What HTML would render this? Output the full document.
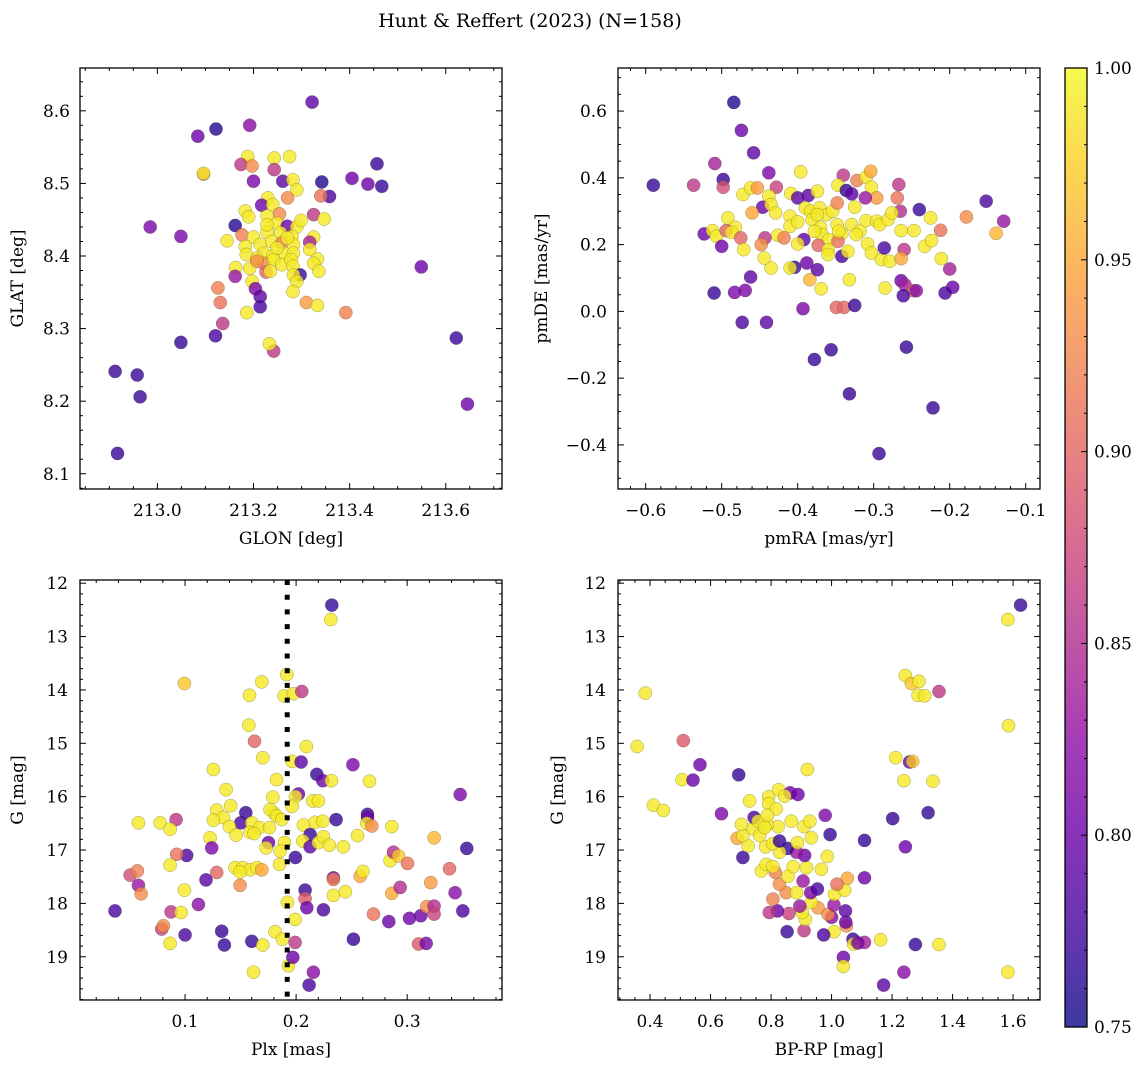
<!DOCTYPE html>
<html><head><meta charset="utf-8">
<style>
html,body{margin:0;padding:0;background:#fff;}
svg{display:block;font-family:"DejaVu Serif","Liberation Serif",serif;}
</style></head>
<body>
<svg id="fig" width="1148" height="1067" viewBox="0 0 1148 1067" xmlns="http://www.w3.org/2000/svg">
<defs>
<linearGradient id="plasma" x1="0" y1="1" x2="0" y2="0">
<stop offset="0" stop-color="#0d0887"/><stop offset="0.1" stop-color="#41049d"/><stop offset="0.2" stop-color="#6a00a8"/><stop offset="0.3" stop-color="#8f0da4"/><stop offset="0.4" stop-color="#b12a90"/><stop offset="0.5" stop-color="#cc4778"/><stop offset="0.6" stop-color="#e16462"/><stop offset="0.7" stop-color="#f2844b"/><stop offset="0.8" stop-color="#fca636"/><stop offset="0.9" stop-color="#fcce25"/><stop offset="1" stop-color="#f0f921"/>
</linearGradient>
</defs>
<text x="530" y="27" text-anchor="middle" font-size="19">Hunt &amp; Reffert (2023) (N=158)</text>
</svg>
<script>
// ---- Panel 1 data: GLON / GLAT / membership probability ----
const p1Lon=[213.322,213.122,213.084,213.192,213.096,213.096,213.188,213.174,213.197,213.243,213.275,213.243,213.200,213.261,213.282,213.290,213.342,213.457,213.405,213.438,213.467,213.358,213.340,213.271,213.230,213.217,213.240,213.254,213.325,213.347,213.183,213.190,212.985,213.049,213.162,213.228,213.249,213.270,213.290,213.299,213.145,213.176,213.200,213.228,213.256,213.280,213.325,213.317,213.183,213.214,213.238,213.259,213.283,213.317,213.185,213.221,213.240,213.263,213.283,213.333,213.325,213.221,213.242,213.259,213.278,213.163,213.192,213.226,213.235,213.282,213.297,213.336,213.283,213.162,213.197,213.290,213.204,213.214,213.126,213.282,213.214,213.131,213.186,213.310,213.333,213.392,213.136,213.121,213.049,213.242,213.233,213.549,213.622,213.645,212.912,212.958,212.964,212.917,213.207,213.249,213.270,213.228,213.207];
const p1Lat=[8.612,8.575,8.565,8.580,8.513,8.514,8.537,8.526,8.524,8.535,8.537,8.519,8.503,8.503,8.505,8.491,8.502,8.527,8.507,8.499,8.496,8.482,8.483,8.480,8.480,8.470,8.471,8.458,8.457,8.451,8.462,8.454,8.440,8.427,8.442,8.455,8.445,8.441,8.440,8.449,8.421,8.429,8.426,8.433,8.432,8.427,8.426,8.419,8.413,8.416,8.420,8.418,8.416,8.409,8.402,8.404,8.400,8.404,8.404,8.396,8.390,8.390,8.395,8.388,8.395,8.384,8.383,8.378,8.379,8.386,8.374,8.379,8.374,8.372,8.365,8.365,8.355,8.344,8.356,8.351,8.330,8.336,8.322,8.336,8.332,8.322,8.307,8.290,8.281,8.269,8.279,8.385,8.287,8.196,8.241,8.236,8.206,8.128,8.397,8.411,8.425,8.443,8.393];
const p1Prob=[0.79,0.76,0.80,0.82,0.90,0.99,0.99,0.86,0.93,0.99,0.99,0.86,0.81,0.79,0.99,0.99,0.76,0.77,0.80,0.80,0.77,0.78,0.91,0.93,0.99,0.80,0.99,0.93,0.86,0.99,0.99,0.99,0.81,0.81,0.76,0.99,0.99,0.80,0.99,0.99,0.99,0.92,0.99,0.99,0.99,0.99,0.99,0.84,0.99,0.99,0.99,0.92,0.99,0.99,0.99,0.99,0.99,0.99,0.99,0.99,0.99,0.93,0.99,0.99,0.99,0.99,0.99,0.90,0.99,0.99,0.77,0.99,0.99,0.83,0.99,0.99,0.81,0.79,0.92,0.99,0.78,0.91,0.99,0.94,0.99,0.92,0.86,0.78,0.77,0.86,0.99,0.80,0.77,0.80,0.77,0.77,0.77,0.77,0.99,0.99,0.99,0.99,0.93];

// ---- Panel 2 data: pmRA / pmDE / probability ----
const p2RA=[-0.484,-0.474,-0.458,-0.509,-0.590,-0.537,-0.498,-0.498,-0.438,-0.396,-0.340,-0.322,-0.310,-0.304,-0.347,-0.336,-0.329,-0.303,-0.267,-0.296,-0.311,-0.269,-0.152,-0.240,-0.265,-0.225,-0.178,-0.129,-0.139,-0.472,-0.462,-0.453,-0.428,-0.409,-0.400,-0.386,-0.374,-0.438,-0.446,-0.435,-0.429,-0.460,-0.492,-0.482,-0.523,-0.512,-0.507,-0.494,-0.487,-0.475,-0.500,-0.471,-0.443,-0.448,-0.426,-0.418,-0.410,-0.410,-0.400,-0.392,-0.400,-0.390,-0.383,-0.371,-0.381,-0.370,-0.362,-0.354,-0.348,-0.348,-0.368,-0.378,-0.359,-0.342,-0.347,-0.373,-0.360,-0.360,-0.342,-0.334,-0.329,-0.325,-0.318,-0.310,-0.323,-0.308,-0.303,-0.296,-0.290,-0.286,-0.292,-0.281,-0.276,-0.279,-0.264,-0.247,-0.260,-0.264,-0.233,-0.224,-0.212,-0.211,-0.200,-0.196,-0.206,-0.264,-0.259,-0.248,-0.261,-0.244,-0.285,-0.332,-0.369,-0.384,-0.388,-0.374,-0.404,-0.410,-0.435,-0.444,-0.462,-0.469,-0.483,-0.510,-0.473,-0.441,-0.393,-0.349,-0.339,-0.325,-0.378,-0.356,-0.332,-0.257,-0.222,-0.293,-0.374,-0.346];
const p2DE=[0.626,0.542,0.475,0.443,0.378,0.378,0.395,0.372,0.415,0.418,0.408,0.392,0.402,0.420,0.378,0.362,0.352,0.372,0.380,0.340,0.340,0.340,0.330,0.305,0.300,0.280,0.283,0.270,0.234,0.350,0.370,0.370,0.372,0.353,0.340,0.347,0.360,0.345,0.312,0.320,0.295,0.295,0.280,0.252,0.232,0.242,0.225,0.242,0.237,0.220,0.195,0.185,0.220,0.200,0.228,0.220,0.285,0.255,0.268,0.215,0.202,0.310,0.300,0.310,0.275,0.252,0.290,0.300,0.325,0.260,0.230,0.240,0.215,0.233,0.210,0.198,0.185,0.170,0.165,0.180,0.260,0.312,0.240,0.272,0.230,0.202,0.175,0.270,0.155,0.190,0.260,0.275,0.295,0.150,0.242,0.242,0.185,0.158,0.195,0.212,0.243,0.158,0.127,0.072,0.055,0.092,0.080,0.062,0.047,0.062,0.070,0.095,0.068,0.095,0.145,0.125,0.132,0.130,0.130,0.160,0.103,0.063,0.057,0.055,-0.033,-0.033,0.008,0.012,0.012,0.018,-0.144,-0.115,-0.247,-0.107,-0.289,-0.426,0.290,0.240];
const p2Prob=[0.76,0.80,0.79,0.84,0.77,0.86,0.77,0.88,0.81,0.99,0.86,0.92,0.99,0.95,0.99,0.77,0.79,0.99,0.86,0.94,0.83,0.91,0.78,0.77,0.85,0.99,0.93,0.83,0.96,0.99,0.99,0.94,0.87,0.99,0.79,0.79,0.99,0.99,0.80,0.99,0.99,0.95,0.99,0.99,0.80,0.99,0.99,0.90,0.99,0.90,0.80,0.99,0.86,0.93,0.99,0.92,0.99,0.99,0.99,0.79,0.99,0.99,0.99,0.99,0.99,0.99,0.99,0.99,0.92,0.99,0.99,0.99,0.99,0.99,0.91,0.90,0.99,0.99,0.78,0.99,0.99,0.99,0.99,0.99,0.99,0.99,0.99,0.99,0.99,0.78,0.99,0.99,0.99,0.99,0.99,0.99,0.86,0.95,0.99,0.99,0.91,0.99,0.84,0.80,0.78,0.80,0.84,0.90,0.78,0.82,0.99,0.99,0.99,0.96,0.80,0.79,0.77,0.99,0.99,0.99,0.79,0.81,0.81,0.77,0.78,0.79,0.81,0.90,0.90,0.77,0.77,0.77,0.77,0.77,0.77,0.77,0.99,0.99];

// ---- Panel 3 data: Plx / G / probability ----
const p3Plx=[0.2321,0.2312,0.1916,0.0994,0.1691,0.1580,0.1892,0.1976,0.2051,0.1574,0.1625,0.2093,0.1700,0.1964,0.2045,0.2511,0.1255,0.2186,0.2240,0.2318,0.2661,0.1823,0.1370,0.1790,0.2021,0.1994,0.3478,0.1411,0.2150,0.2201,0.1964,0.1285,0.1547,0.1796,0.1766,0.1826,0.1345,0.1255,0.0580,0.0775,0.0919,0.0865,0.1502,0.2360,0.2643,0.2643,0.2637,0.2682,0.2862,0.2171,0.2240,0.2066,0.1601,0.1399,0.1670,0.1760,0.1871,0.1460,0.1586,0.1622,0.1225,0.2126,0.2060,0.2126,0.2201,0.2246,0.2300,0.2426,0.2553,0.1751,0.1730,0.1895,0.1856,0.1240,0.1015,0.0925,0.0865,0.1994,0.1850,0.1451,0.1520,0.1586,0.1646,0.1691,0.1496,0.1285,0.1189,0.1496,0.0505,0.0571,0.0580,0.0604,0.0994,0.1120,0.0369,0.0874,0.0964,0.0790,0.0805,0.0865,0.1000,0.1330,0.1354,0.1601,0.1700,0.1811,0.1877,0.1616,0.1931,0.1970,0.1991,0.1991,0.1922,0.2081,0.2081,0.2096,0.2246,0.2156,0.2117,0.2516,0.2336,0.2336,0.2336,0.2444,0.2577,0.2601,0.2697,0.2862,0.2937,0.2847,0.2877,0.2922,0.3003,0.2835,0.3021,0.3123,0.3177,0.3243,0.3243,0.3213,0.3243,0.3381,0.3432,0.3501,0.3537,0.3102,0.3171];
const p3G=[12.41,12.68,13.71,13.88,13.85,14.10,14.11,14.07,14.03,14.66,14.96,15.06,15.27,15.34,15.35,15.40,15.49,15.58,15.70,15.70,15.71,15.68,15.87,16.01,15.95,16.00,15.96,16.17,16.08,16.08,16.18,16.25,16.30,16.30,16.24,16.36,16.39,16.44,16.49,16.49,16.43,16.61,16.49,16.43,16.33,16.39,16.50,16.55,16.56,16.48,16.46,16.53,16.49,16.56,16.58,16.58,16.43,16.72,16.67,16.69,16.77,16.71,16.83,16.94,16.86,16.75,16.91,16.94,16.73,16.86,16.96,16.86,17.02,16.96,17.10,17.08,17.28,17.14,17.27,17.33,17.33,17.37,17.33,17.37,17.41,17.42,17.56,17.66,17.47,17.39,17.66,17.82,17.75,18.02,18.14,18.16,18.17,18.48,18.42,18.75,18.59,18.52,18.78,18.71,18.78,18.53,18.67,19.29,19.17,19.01,18.73,18.30,17.98,17.75,17.91,18.08,18.12,19.29,19.53,18.67,17.52,17.55,17.85,17.78,17.49,17.40,18.20,17.81,17.70,17.20,17.04,17.11,17.25,18.34,18.28,18.23,18.06,18.05,18.20,17.61,16.77,17.35,17.80,18.14,16.97,18.76,18.75];
const p3Prob=[0.77,0.99,0.99,0.97,0.99,0.99,0.99,0.99,0.86,0.99,0.90,0.99,0.99,0.99,0.79,0.81,0.99,0.77,0.80,0.99,0.99,0.99,0.99,0.99,0.80,0.99,0.81,0.99,0.99,0.99,0.99,0.99,0.77,0.99,0.99,0.99,0.99,0.99,0.99,0.99,0.86,0.99,0.78,0.77,0.77,0.80,0.99,0.93,0.99,0.99,0.99,0.99,0.99,0.99,0.99,0.99,0.99,0.99,0.99,0.99,0.99,0.77,0.99,0.79,0.99,0.99,0.99,0.99,0.99,0.80,0.99,0.99,0.99,0.81,0.78,0.91,0.99,0.77,0.99,0.99,0.99,0.99,0.99,0.95,0.99,0.90,0.79,0.93,0.88,0.92,0.83,0.93,0.99,0.82,0.78,0.86,0.99,0.87,0.93,0.99,0.78,0.77,0.77,0.77,0.99,0.99,0.99,0.99,0.99,0.80,0.86,0.99,0.99,0.77,0.89,0.80,0.78,0.82,0.78,0.77,0.80,0.92,0.99,0.99,0.95,0.99,0.91,0.95,0.85,0.99,0.85,0.97,0.91,0.80,0.80,0.80,0.93,0.85,0.87,0.94,0.96,0.90,0.82,0.78,0.77,0.89,0.81];

// ---- Panel 4 data: BP-RP / G / probability ----
const p4Col=[1.625,1.583,1.585,1.583,0.384,0.357,0.510,0.565,0.506,0.542,0.411,0.444,0.636,0.693,0.920,1.244,1.264,1.289,1.286,1.308,1.355,1.212,1.258,1.268,1.239,1.335,1.319,1.202,1.244,1.109,1.109,1.162,1.277,1.355,1.239,1.172,1.039,1.039,1.071,1.109,1.073,1.087,1.008,0.974,0.909,0.853,1.049,1.047,1.046,1.000,0.988,1.008,1.010,1.043,1.052,1.018,0.955,0.933,0.913,0.903,0.859,0.821,0.794,0.895,0.806,0.850,0.884,0.931,0.953,0.906,0.828,0.814,0.856,0.873,0.917,0.966,0.986,0.911,0.884,0.854,0.828,0.768,0.784,0.806,0.707,0.724,0.688,0.707,0.740,0.762,0.782,0.806,0.828,0.887,0.933,0.909,0.928,0.867,0.823,0.788,0.702,0.744,0.757,0.729,0.792,0.825,0.792,0.817,0.788,0.863,0.889,0.845,0.979,0.995,0.779];
const p4G=[12.41,12.68,14.67,19.29,14.06,15.06,14.95,15.40,15.68,15.69,16.16,16.26,16.32,15.59,15.49,13.73,13.88,13.84,14.10,14.11,14.03,15.27,15.35,15.34,15.70,15.71,16.30,16.41,16.94,16.82,17.52,18.68,18.77,18.77,19.29,19.53,19.01,19.18,18.67,18.73,18.76,18.74,18.53,18.59,18.51,18.53,18.42,18.35,18.14,18.26,18.20,18.03,17.83,17.75,17.53,17.64,18.08,17.98,18.30,18.17,18.19,18.14,18.17,18.05,17.92,17.80,17.80,17.80,17.73,17.58,17.64,17.42,17.49,17.31,17.33,17.36,17.12,17.10,17.04,16.97,17.04,17.39,17.27,17.31,17.14,16.92,16.78,16.73,16.60,16.73,16.94,16.88,16.83,16.86,16.77,16.56,16.46,16.46,16.56,16.52,16.52,16.39,16.46,16.08,16.00,15.87,16.13,16.23,16.35,15.93,15.96,15.99,16.35,16.71,16.58];
const p4Prob=[0.77,0.99,0.99,0.99,0.99,0.99,0.89,0.80,0.99,0.80,0.99,0.99,0.81,0.77,0.99,0.99,0.97,0.99,0.99,0.99,0.86,0.99,0.79,0.97,0.99,0.99,0.77,0.77,0.80,0.77,0.80,0.99,0.77,0.99,0.82,0.79,0.80,0.99,0.77,0.84,0.99,0.81,0.99,0.78,0.86,0.77,0.93,0.80,0.79,0.82,0.93,0.83,0.99,0.99,0.95,0.91,0.94,0.99,0.99,0.99,0.87,0.80,0.86,0.83,0.92,0.93,0.99,0.81,0.78,0.83,0.93,0.92,0.99,0.99,0.99,0.99,0.99,0.80,0.83,0.77,0.99,0.99,0.99,0.99,0.77,0.99,0.95,0.99,0.99,0.99,0.99,0.99,0.77,0.99,0.99,0.99,0.99,0.99,0.99,0.99,0.99,0.78,0.99,0.99,0.99,0.99,0.99,0.99,0.99,0.80,0.80,0.99,0.81,0.77,0.99];

// ---- Tick labels ----
const p1XTicks=[213.0,213.2,213.4,213.6];
const p1YTicks=[8.1,8.2,8.3,8.4,8.5,8.6];
const p2XTicks=[-0.6,-0.5,-0.4,-0.3,-0.2,-0.1];
const p2YTicks=[-0.4,-0.2,0.0,0.2,0.4,0.6];
const p3XTicks=[0.1,0.2,0.3];
const gTicks=[12,13,14,15,16,17,18,19];
const p4XTicks=[0.4,0.6,0.8,1.0,1.2,1.4,1.6];
const cbarTicks=[0.75,0.80,0.85,0.90,0.95,1.00];
const plxCut=0.192;

const NS='http://www.w3.org/2000/svg';
const svg=document.getElementById('fig');
function mk(tag,attrs,parent){const e=document.createElementNS(NS,tag);for(const k in attrs)e.setAttribute(k,attrs[k]);(parent||svg).appendChild(e);return e;}

const PL=[[0,'#0d0887'],[0.1,'#41049d'],[0.2,'#6a00a8'],[0.3,'#8f0da4'],[0.4,'#b12a90'],[0.5,'#cc4778'],[0.6,'#e16462'],[0.7,'#f2844b'],[0.8,'#fca636'],[0.9,'#fcce25'],[1,'#f0f921']];
function hex(h){return[parseInt(h.substr(1,2),16),parseInt(h.substr(3,2),16),parseInt(h.substr(5,2),16)];}
function plasma(p){let t=(p-0.75)/0.25;t=Math.max(0,Math.min(1,t));for(let i=0;i<PL.length-1;i++){if(t<=PL[i+1][0]){const f=(t-PL[i][0])/(PL[i+1][0]-PL[i][0]);const a=hex(PL[i][1]),b=hex(PL[i+1][1]);return 'rgb('+a.map((v,j)=>Math.round(v+(b[j]-v)*f)).join(',')+')';}}return PL[10][1];}

function fmt(v,d){return (v<0?'\u2212':'')+Math.abs(v).toFixed(d);}

function panel(cfg){
  const {name,L,R,T,B,xmin,xmax,ymin,ymax,xs,ys,ps,xt,yt,xd,yd,xminor,yminor,xlabel,ylabel,ylabx,ytlx}=cfg;
  const g=mk('g',{});
  
  
  const sx=v=>L+(v-xmin)/(xmax-xmin)*(R-L);
  const sy=cfg.invertY ? (v=>T+(v-ymin)/(ymax-ymin)*(B-T)) : (v=>B-(v-ymin)/(ymax-ymin)*(B-T));
  const clip=mk('clipPath',{id:name+'-clip'},g);
  mk('rect',{x:L,y:T,width:R-L,height:B-T},clip);
  const pts=mk('g',{'clip-path':'url(#'+name+'-clip)'},g);
  
  
  for(let i=0;i<xs.length;i++){
    const c=mk('circle',{cx:sx(xs[i]).toFixed(1),cy:sy(ys[i]).toFixed(1),r:6.6,fill:plasma(ps[i]),'fill-opacity':0.8,stroke:'rgba(60,60,30,0.45)','stroke-width':0.5},pts);
    
    
  }
  if(cfg.extra) cfg.extra(pts,sx,sy);
  const fr=mk('rect',{x:L,y:T,width:R-L,height:B-T,fill:'none',stroke:'#000','stroke-width':1.3},g);
  
  
  const tk=mk('g',{stroke:'#000','stroke-width':1},g);
  const x0=Math.ceil(xmin/xminor-1e-6),x1=Math.floor(xmax/xminor+1e-6);
  for(let k=x0;k<=x1;k++){const v=k*xminor;const X=sx(v);const maj=Math.abs((v/cfg.xmajor)-Math.round(v/cfg.xmajor))<1e-6;const len=maj?6:3;
    mk('line',{x1:X,y1:B,x2:X,y2:B-len},tk);mk('line',{x1:X,y1:T,x2:X,y2:T+len},tk);}
  const y0=Math.ceil(ymin/yminor-1e-6),y1=Math.floor(ymax/yminor+1e-6);
  for(let k=y0;k<=y1;k++){const v=k*yminor;const Y=sy(v);const maj=Math.abs((v/cfg.ymajor)-Math.round(v/cfg.ymajor))<1e-6;const len=maj?6:3;
    mk('line',{x1:L,y1:Y,x2:L+len,y2:Y},tk);mk('line',{x1:R,y1:Y,x2:R-len,y2:Y},tk);}
  for(const v of xt){const t=mk('text',{x:sx(v),y:B+27,'text-anchor':'middle','font-size':17},g);t.textContent=fmt(v,xd);
    }
  for(const v of yt){const t=mk('text',{x:ytlx,y:sy(v)+6,'text-anchor':'end','font-size':17},g);t.textContent=fmt(v,yd);
    }
  const xl=mk('text',{x:(L+R)/2,y:B+55,'text-anchor':'middle','font-size':17},g);xl.textContent=xlabel;
  
  const cy=(T+B)/2;
  const yl=mk('text',{x:ylabx,y:cy,'text-anchor':'middle','font-size':17,transform:'rotate(-90 '+ylabx+' '+cy+')'},g);yl.textContent=ylabel;
  
}

panel({name:'glon-glat-panel',L:80,R:502,T:68,B:489,xmin:212.839,xmax:213.717,ymin:8.079,ymax:8.659,xs:p1Lon,ys:p1Lat,ps:p1Prob,xt:p1XTicks,yt:p1YTicks,xd:1,yd:1,xminor:0.05,yminor:0.02,xmajor:0.2,ymajor:0.1,xlabel:'GLON [deg]',ylabel:'GLAT [deg]',ylabx:23,ytlx:70});
panel({name:'pm-panel',L:618,R:1040,T:68,B:489,xmin:-0.6364,xmax:-0.0812,ymin:-0.532,ymax:0.729,xs:p2RA,ys:p2DE,ps:p2Prob,xt:p2XTicks,yt:p2YTicks,xd:1,yd:1,xminor:0.02,yminor:0.05,xmajor:0.1,ymajor:0.2,xlabel:'pmRA [mas/yr]',ylabel:'pmDE [mas/yr]',ylabx:547,ytlx:607});
panel({name:'plx-g-panel',L:80,R:502,T:580,B:1000,xmin:0.0054,xmax:0.3854,ymin:11.94,ymax:19.81,xs:p3Plx,ys:p3G,ps:p3Prob,xt:p3XTicks,yt:gTicks,xd:1,yd:0,xminor:0.02,yminor:0.2,xmajor:0.1,ymajor:1,xlabel:'Plx [mas]',ylabel:'G [mag]',ylabx:23,ytlx:68,invertY:true,
  extra:(g,sx,sy)=>{const l=mk('line',{x1:sx(plxCut),y1:580,x2:sx(plxCut),y2:1000,stroke:'#000','stroke-width':5,'stroke-dasharray':'5 9.7'},g);
    }});
panel({name:'cmd-panel',L:618,R:1040,T:580,B:1000,xmin:0.294,xmax:1.689,ymin:11.94,ymax:19.81,xs:p4Col,ys:p4G,ps:p4Prob,xt:p4XTicks,yt:gTicks,xd:1,yd:0,xminor:0.05,yminor:0.2,xmajor:0.2,ymajor:1,xlabel:'BP-RP [mag]',ylabel:'G [mag]',ylabx:563,ytlx:606,invertY:true});

const cb=mk('g',{});


mk('rect',{x:1065,y:68,width:22,height:959,fill:'url(#plasma)','fill-opacity':0.8},cb);
mk('rect',{x:1065,y:68,width:22,height:959,fill:'none',stroke:'#000','stroke-width':1.3},cb);
const cby=v=>1027-(v-0.75)/0.25*959;
for(let k=75;k<=100;k++){const v=k/100;const maj=k%5===0;mk('line',{x1:1087,y1:cby(v),x2:1087-(maj?6:3),y2:cby(v),stroke:'#000','stroke-width':1},cb);}
for(const v of cbarTicks){const t=mk('text',{x:1094,y:cby(v)+6,'font-size':17},cb);t.textContent=v.toFixed(2);
  }
</script>
</body></html>
